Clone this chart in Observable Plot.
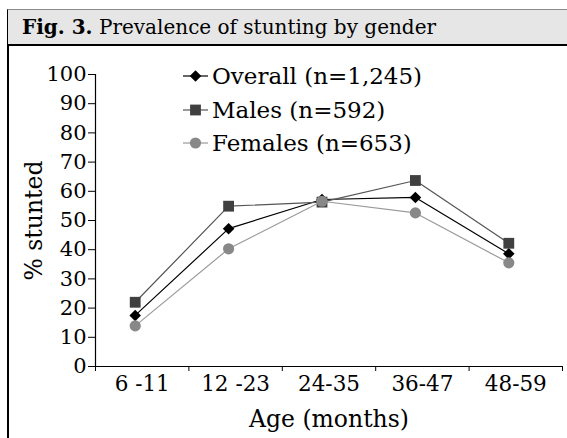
<!DOCTYPE html>
<html>
<head>
<meta charset="utf-8">
<script src="https://cdn.jsdelivr.net/npm/d3@7"></script>
<script src="https://cdn.jsdelivr.net/npm/@observablehq/plot@0.6"></script>
<style>
  html, body { margin: 0; padding: 0; background: #fff; }
  #wrap { position: relative; width: 567px; height: 438px; overflow: hidden; font-family: "DejaVu Serif", serif; color: #000; }
  #title { position: absolute; left: 7px; top: 9px; width: 560px; height: 37px; box-sizing: border-box;
           background: #e6e6e6; border-top: 1.5px solid #8a8a8a; border-bottom: 2px solid #000; border-left: 1.5px solid #000;
           font-size: 20px; line-height: 34px; padding-left: 14px; white-space: nowrap; }
  #leftline { position: absolute; left: 7px; top: 46px; width: 1.5px; height: 392px; background: #000; }
  #chart { position: absolute; left: 0; top: 48px; }
  #legend { position: absolute; left: 181px; top: 0; font-size: 23px; }
  .row { position: absolute; left: 0; height: 26px; display: flex; align-items: center; white-space: nowrap; }
  .row svg { margin-right: 2px; }
</style>
</head>
<body>
<div id="wrap">
  <div id="title"><b>Fig. 3.</b> Prevalence of stunting by gender</div>
  <div id="leftline"></div>
  <div id="chart"></div>
  <div id="legend"></div>
</div>
<script>
const ages = ["6 -11", "12 -23", "24-35", "36-47", "48-59"];
const overall = [17.5, 47.2, 57.2, 57.9, 38.6];
const males = [22.0, 54.9, 56.3, 63.7, 42.2];
const females = [13.9, 40.3, 56.6, 52.6, 35.5];
const seriesNames = ["Overall (n=1,245)", "Males (n=592)", "Females (n=653)"];
const yTicks = [0, 10, 20, 30, 40, 50, 60, 70, 80, 90, 100];

const specs = [
  {name: seriesNames[0], values: overall, symbol: "diamond2", r: 5.2, fill: "#000000", stroke: "#000000"},
  {name: seriesNames[1], values: males, symbol: "square", r: 6.1, fill: "#404040", stroke: "#555555"},
  {name: seriesNames[2], values: females, symbol: "circle", r: 5.6, fill: "#888888", stroke: "#9a9a9a"}
];

const seriesMarks = specs.flatMap(s => {
  const rows = ages.map((a, i) => ({age: a, i, v: s.values[i]}));
  return [
    Plot.line(rows, {x: d => d.i + 0.5, y: "v", stroke: s.stroke, strokeWidth: 1.2, dx: -7}),
    Plot.dot(rows, {x: d => d.i + 0.5, y: "v", symbol: () => s.symbol, r: s.r, fill: s.fill, stroke: "none", dx: -7})
  ];
});

const chart = Plot.plot({
  width: 567,
  height: 390,
  marginLeft: 95,
  marginRight: 5,
  marginTop: 26,
  marginBottom: 72,
  x: {domain: [0, ages.length]},
  y: {domain: [0, 100]},
  symbol: {type: "identity"},
  style: {fontFamily: "DejaVu Serif", fontSize: "21px", color: "#000", background: "transparent", overflow: "visible"},
  marks: [
    Plot.axisY(yTicks, {tickSize: 7, tickPadding: 2, fontSize: 21, label: null}),
    Plot.axisY(yTicks, {tickSize: 0, tickFormat: () => "", fontSize: 23.5, label: "% stunted", labelAnchor: "center", labelArrow: "none", labelOffset: 70}),
    Plot.axisX(d3.range(ages.length + 1), {tickSize: 5, tickFormat: () => "", label: null}),
    Plot.axisX(ages.map((_, i) => i + 0.5), {tickSize: 0, tickPadding: 9, fontSize: 21.5, tickFormat: v => ages[Math.round(v - 0.5)], label: null}),
    Plot.axisX(ages.map((_, i) => i + 0.5), {tickSize: 0, tickFormat: () => "", fontSize: 23.5, label: "Age (months)", labelAnchor: "center", labelArrow: "none", labelOffset: 60}),
    Plot.ruleX([0], {y1: 0, y2: 100, stroke: "#000", strokeWidth: 1.2}),
    Plot.ruleY([0], {stroke: "#000", strokeWidth: 1.2}),
    ...seriesMarks
  ]
});
document.getElementById("chart").appendChild(chart);

// legend
const legendY = [76, 110, 143];
const legend = document.getElementById("legend");
const symMap = {diamond2: d3.symbolDiamond2, square: d3.symbolSquare, circle: d3.symbolCircle};
specs.forEach((s, k) => {
  const row = document.createElement("div");
  row.className = "row";
  row.style.top = (legendY[k] - 13) + "px";
  const sw = d3.create("svg").attr("width", 29).attr("height", 14);
  sw.append("line").attr("x1", 2).attr("x2", 27).attr("y1", 7).attr("y2", 7).attr("stroke", s.stroke).attr("stroke-width", 1.2);
  sw.append("path").attr("transform", "translate(14.5,7)")
    .attr("d", d3.symbol(symMap[s.symbol], Math.PI * s.r * s.r)())
    .attr("fill", s.fill);
  row.appendChild(sw.node());
  const t = document.createElement("span");
  t.textContent = s.name;
  row.appendChild(t);
  legend.appendChild(row);
});
</script>
</body>
</html>
